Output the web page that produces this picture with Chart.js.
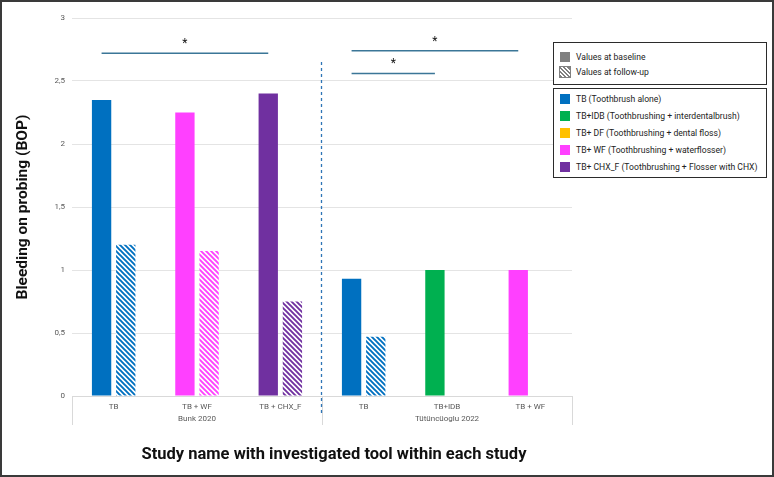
<!DOCTYPE html>
<html>
<head>
    <title>BOP chart</title>
    <script src="https://cdn.jsdelivr.net/npm/chart.js"></script>
    <style>
        body {
            margin: 0;
            background-color: #fff;
            font-family: Roboto, Arial, sans-serif;
        }
        .wrap {
            position: relative;
            width: 774px;
            height: 477px;
        }
        .frame {
            position: absolute;
            left: 0; top: 0; right: 0; bottom: 0;
            border: 2px solid #3a3a3a;
            pointer-events: none;
        }
        .legend-box {
            position: absolute;
            left: 553px;
            width: 214px;
            border: 1.5px solid #2b2b2b;
            background: #fff;
            box-sizing: border-box;
            padding: 0 0 0 6px;
        }
        .legend-item {
            display: flex;
            align-items: center;
            font-size: 8.6px;
            color: #222;
            white-space: nowrap;
        }
        .sw {
            width: 10px;
            height: 10px;
            margin-right: 6px;
            flex: none;
        }
    </style>
</head>
<body>
<div class="wrap">
    <canvas id="bopChart"></canvas>
    <div class="legend-box" id="legendTime" style="top:42px;height:43px;padding-top:7px;"></div>
    <div class="legend-box" id="legendTool" style="top:88px;height:90px;padding-top:1px;"></div>
    <div class="frame"></div>
</div>

<script>
    // data
    const tools = ['TB', 'TB + WF', 'TB + CHX_F', 'TB', 'TB+IDB', 'TB + WF'];
    const baseline = [2.35, 2.25, 2.40, 0.93, 1.0, 1.0];
    const followUp = [1.2, 1.15, 0.75, 0.47, null, null];
    const barColors = ['#0070C0', '#FF40FF', '#7030A0', '#0070C0', '#00B050', '#FF40FF'];
    const studies = ['Bunk 2020', 'Tütüncüoglu 2022'];
    const studyOf = [0, 0, 0, 1, 1, 1];
    const yTicks = [0, 0.5, 1, 1.5, 2, 2.5, 3];

    const legendTimes = ['Values at baseline', 'Values at follow-up'];
    const legendTools = [
        'TB (Toothbrush alone)',
        'TB+IDB (Toothbrushing + interdentalbrush)',
        'TB+ DF (Toothbrushing + dental floss)',
        'TB+ WF (Toothbrushing + waterflosser)',
        'TB+ CHX_F (Toothbrushing + Flosser with CHX)'
    ];
    const legendToolColors = ['#0070C0', '#00B050', '#FFC000', '#FF40FF', '#7030A0'];

    // significance brackets: [from category, to category, height]
    const sigBars = [[0, 2, 2.72], [3, 5, 2.74], [3, 4, 2.56]];

    function hatch(color) {
        const c = document.createElement('canvas');
        c.width = 5; c.height = 5;
        const g = c.getContext('2d');
        g.fillStyle = '#fff';
        g.fillRect(0, 0, 5, 5);
        g.strokeStyle = color;
        g.lineWidth = 1.9;
        g.beginPath();
        g.moveTo(-1, -1); g.lineTo(6, 6);
        g.moveTo(-1, 4); g.lineTo(1, 6);
        g.moveTo(4, -1); g.lineTo(6, 1);
        g.stroke();
        return g.createPattern(c, 'repeat');
    }

    // legend
    const lt = document.getElementById('legendTime');
    legendTimes.forEach((t, i) => {
        const row = document.createElement('div');
        row.className = 'legend-item';
        row.style.height = '14.5px';
        const sw = document.createElement('span');
        sw.className = 'sw';
        sw.style.background = i === 0 ? '#808080'
            : 'repeating-linear-gradient(45deg, #808080 0 1.5px, #fff 1.5px 3px)';
        if (i === 1) sw.style.outline = '1px solid #808080';
        row.appendChild(sw);
        row.appendChild(document.createTextNode(t));
        lt.appendChild(row);
    });
    const ltool = document.getElementById('legendTool');
    legendTools.forEach((t, i) => {
        const row = document.createElement('div');
        row.className = 'legend-item';
        row.style.height = '17px';
        const sw = document.createElement('span');
        sw.className = 'sw';
        sw.style.background = legendToolColors[i];
        row.appendChild(sw);
        row.appendChild(document.createTextNode(t));
        ltool.appendChild(row);
    });

    const extras = {
        id: 'extras',
        afterDatasetsDraw(chart) {
            const { ctx, chartArea, scales: { x, y } } = chart;
            const meta = chart.getDatasetMeta(0);
            ctx.save();

            // group boundaries below axis
            const mid = (x.getPixelForValue(2) + x.getPixelForValue(3)) / 2;
            ctx.strokeStyle = '#D9D9D9';
            ctx.lineWidth = 1;
            [chartArea.left, mid, chartArea.right].forEach(px => {
                ctx.beginPath();
                ctx.moveTo(Math.round(px) + 0.5, chartArea.bottom);
                ctx.lineTo(Math.round(px) + 0.5, chartArea.bottom + 29);
                ctx.stroke();
            });

            // dashed separator between studies
            ctx.strokeStyle = '#2E75B6';
            ctx.lineWidth = 1.3;
            ctx.setLineDash([3, 3]);
            ctx.beginPath();
            ctx.moveTo(Math.round(mid) - 0.5, y.getPixelForValue(2.65));
            ctx.lineTo(Math.round(mid) - 0.5, chartArea.bottom + 17);
            ctx.stroke();
            ctx.setLineDash([]);

            // study names
            ctx.fillStyle = '#595959';
            ctx.font = '8px Roboto, Arial';
            ctx.textAlign = 'center';
            ctx.textBaseline = 'middle';
            studies.forEach((s, k) => {
                const idx = studyOf.map((v, i) => v === k ? i : -1).filter(i => i >= 0);
                const cx = (x.getPixelForValue(idx[0]) + x.getPixelForValue(idx[idx.length - 1])) / 2;
                ctx.fillText(s, cx, chartArea.bottom + 23);
            });

            // significance brackets
            ctx.strokeStyle = '#3B7697';
            ctx.lineWidth = 1.4;
            ctx.fillStyle = '#111';
            ctx.font = '12px Roboto, Arial';
            sigBars.forEach(([a, b, h]) => {
                const x0 = meta.data[a].x, x1 = meta.data[b].x, py = y.getPixelForValue(h);
                ctx.beginPath();
                ctx.moveTo(x0, py);
                ctx.lineTo(x1, py);
                ctx.stroke();
                ctx.fillText('*', (x0 + x1) / 2, py - 9);
            });

            // x axis title
            ctx.fillStyle = '#111';
            ctx.font = 'bold 16.5px Roboto, Arial';
            ctx.fillText('Study name with investigated tool within each study', 334, 455);
            ctx.restore();
        }
    };

    const ctx = document.getElementById('bopChart').getContext('2d');
    new Chart(ctx, {
        type: 'bar',
        data: {
            labels: tools,
            datasets: [{
                label: 'Values at baseline',
                data: baseline,
                backgroundColor: barColors,
                categoryPercentage: 0.58,
                barPercentage: 0.8
            }, {
                label: 'Values at follow-up',
                data: followUp,
                backgroundColor: barColors.map(hatch),
                categoryPercentage: 0.58,
                barPercentage: 0.8
            }]
        },
        options: {
            responsive: true,
            maintainAspectRatio: false,
            animation: false,
            layout: { padding: { left: 0, right: 202, top: 18, bottom: 0 } },
            plugins: { legend: { display: false }, tooltip: { enabled: false } },
            scales: {
                x: {
                    grid: { display: false, drawTicks: false },
                    border: { display: true, color: '#D9D9D9' },
                    ticks: { color: '#595959', font: { size: 8, family: 'Roboto, Arial' }, padding: 6, maxRotation: 0, autoSkip: false },
                    afterFit: s => { s.height = 81; }
                },
                y: {
                    min: 0, max: 3,
                    afterBuildTicks: s => { s.ticks = yTicks.map(v => ({ value: v })); },
                    ticks: {
                        color: '#595959', font: { size: 8, family: 'Roboto, Arial' }, padding: 7,
                        callback: v => String(v).replace('.', ',')
                    },
                    grid: { color: '#E4E4E4', drawTicks: false },
                    border: { display: false },
                    title: {
                        display: true,
                        text: 'Bleeding on probing (BOP)',
                        color: '#111',
                        font: { size: 15.5, weight: 'bold', family: 'Roboto, Arial' },
                        padding: { top: 14, bottom: 0 }
                    },
                    afterFit: s => { s.width = 72; }
                }
            }
        },
        plugins: [extras]
    });
</script>
</body>
</html>
